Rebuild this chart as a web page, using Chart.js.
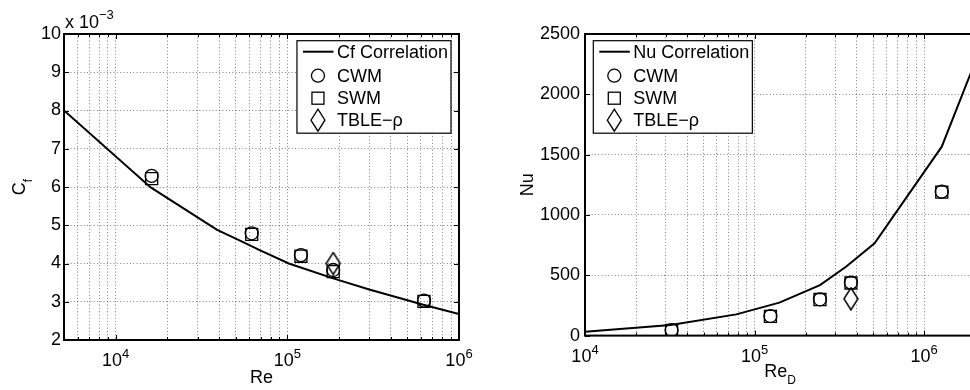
<!DOCTYPE html>
<html>
<head>
<meta charset="utf-8">
<script src="https://cdn.jsdelivr.net/npm/chart.js@4.4.1/dist/chart.umd.min.js"></script>
<style>
html, body { margin: 0; padding: 0; background: #fff; overflow: hidden; }
#wrap { position: relative; width: 970px; height: 390px; overflow: hidden; }
#cf { position: absolute; left: 0; top: 0; }
#nu { position: absolute; left: 485px; top: 0; }
</style>
</head>
<body>
<div id="wrap">
  <canvas id="cf" width="485" height="390"></canvas>
  <canvas id="nu" width="500" height="390"></canvas>
</div>
<script>
// left panel - skin friction (values in units of 1e-3)
var cfCorrRe = [5000, 16000, 39000, 53000, 69000, 102000, 185000, 300000, 620000, 1000000]
var cfCorr   = [8.0, 5.99, 4.88, 4.60, 4.35, 4.00, 3.61, 3.32, 2.92, 2.68]
var cfRe     = [16200, 62000, 120000, 185000, 625000]
var cfCWM    = [6.29, 4.79, 4.22, 3.83, 3.03]
var cfSWM    = [6.22, 4.76, 4.19, 3.79, 3.01]
var cfTbleRe = [185000]
var cfTBLE   = [4.00]
var cfYTicks = [2, 3, 4, 5, 6, 7, 8, 9, 10]

// right panel - Nusselt number
var nuCorrRe = [10000, 32000, 78000, 140000, 243000, 346000, 510000, 1270000, 2000000]
var nuCorr   = [32, 88, 176, 273, 419, 571, 765, 1566, 2270]
var nuRe     = [32400, 124000, 243000, 370000, 1270000]
var nuCWM    = [46, 162, 301, 439, 1193]
var nuSWM    = [44, 160, 299, 436, 1190]
var nuTbleRe = [370000]
var nuTBLE   = [305]
var nuYTicks = [0, 500, 1000, 1500, 2000, 2500]

var fam = '"Liberation Sans", Arial, Helvetica, sans-serif'
Chart.defaults.font.family = fam
Chart.defaults.font.size = 18
Chart.defaults.color = '#000'

function pts(xs, ys) {
    return xs.map(function (x, i) { return {x: x, y: ys[i]} })
}

function diamondPath(g, x, y) {
    g.beginPath()
    g.moveTo(x, y - 11); g.lineTo(x + 7, y); g.lineTo(x, y + 11); g.lineTo(x - 7, y)
    g.closePath(); g.stroke()
}

// tall matlab style diamond
function diamondImg() {
    var c = document.createElement('canvas')
    c.width = 16; c.height = 24
    var g = c.getContext('2d')
    g.strokeStyle = '#000'; g.lineWidth = 1.5
    diamondPath(g, 8, 12)
    return c
}
var diamond = diamondImg()

function logTicks(min, max) {
    var t = []
    for (var e = Math.floor(Math.log10(min)); e <= Math.ceil(Math.log10(max)); e++) {
        for (var k = 1; k < 10; k++) {
            var v = k * Math.pow(10, e)
            if (v >= min * 0.999 && v <= max * 1.001) t.push({value: v})
        }
    }
    return t
}

function decade(v) {
    var e = Math.log10(v)
    if (Math.abs(e - Math.round(e)) > 1e-9) return null
    return Math.round(e)
}

function datasets(lineLabel, corrX, corrY, re, cwm, swm, tbleRe, tble) {
    return [
        {label: lineLabel, data: pts(corrX, corrY), showLine: true, borderColor: '#000', borderWidth: 2,
         pointRadius: 0, order: 1},
        {label: 'CWM', data: pts(re, cwm), pointStyle: 'circle', pointRadius: 6.5,
         borderColor: '#000', borderWidth: 1.3, backgroundColor: 'transparent'},
        {label: 'SWM', data: pts(re, swm), pointStyle: 'rect', pointRadius: 8.5,
         borderColor: '#000', borderWidth: 1.3, backgroundColor: 'transparent'},
        {label: 'TBLE\u2212\u03C1', data: pts(tbleRe, tble), pointStyle: diamond, pointRadius: 8,
         borderColor: '#000', borderWidth: 1.3, backgroundColor: 'transparent'}
    ]
}

function drawMarker(ctx, i, x, y) {
    ctx.beginPath()
    if (i == 1) { ctx.arc(x, y, 6.5, 0, Math.PI * 2); ctx.stroke() }
    else if (i == 2) { ctx.strokeRect(x - 6, y - 6, 12, 12) }
    else if (i == 3) { diamondPath(ctx, x, y) }
}

// subscript text helper: main + smaller lowered sub, centred on x
function subText(ctx, main, sub, x, y) {
    ctx.font = '18px ' + fam
    var w1 = ctx.measureText(main).width
    ctx.font = '12px ' + fam
    var w2 = ctx.measureText(sub).width
    var x0 = x - (w1 + w2) / 2
    ctx.font = '18px ' + fam
    ctx.fillText(main, x0, y)
    ctx.font = '12px ' + fam
    ctx.fillText(sub, x0 + w1, y + 7)
}

function framePlugin(cfg) {
    return {
        id: 'frame',
        afterDraw: function (chart) {
            var ctx = chart.ctx, a = chart.chartArea, sx = chart.scales.x, sy = chart.scales.y
            ctx.save()
            // inward tick marks like matlab
            ctx.strokeStyle = '#000'; ctx.lineWidth = 1
            ctx.beginPath()
            sx.ticks.forEach(function (t) {
                var p = Math.round(sx.getPixelForValue(t.value)) + 0.5
                var l = decade(t.value) !== null ? 5 : 3
                ctx.moveTo(p, a.bottom); ctx.lineTo(p, a.bottom - l)
                ctx.moveTo(p, a.top); ctx.lineTo(p, a.top + l)
            })
            sy.ticks.forEach(function (t) {
                var p = Math.round(sy.getPixelForValue(t.value)) + 0.5
                ctx.moveTo(a.left, p); ctx.lineTo(a.left + 5, p)
                ctx.moveTo(a.right, p); ctx.lineTo(a.right - 5, p)
            })
            ctx.stroke()
            ctx.lineWidth = 2
            ctx.strokeRect(a.left, a.top, a.right - a.left, a.bottom - a.top)

            // x tick labels 10^n with raised exponent
            ctx.fillStyle = '#000'
            ctx.textBaseline = 'alphabetic'
            ctx.textAlign = 'left'
            sx.ticks.forEach(function (t) {
                var e = decade(t.value)
                if (e === null) return
                var p = sx.getPixelForValue(t.value)
                ctx.font = '18px ' + fam
                var w1 = ctx.measureText('10').width
                ctx.font = '13px ' + fam
                var w2 = ctx.measureText(String(e)).width
                var x0 = p - (w1 + w2) / 2
                ctx.font = '18px ' + fam
                ctx.fillText('10', x0, a.bottom + 26)
                ctx.font = '13px ' + fam
                ctx.fillText(String(e), x0 + w1, a.bottom + 18.3)
            })

            // legend box
            var ds = chart.data.datasets
            ctx.font = '18px ' + fam
            var maxW = 0
            ds.forEach(function (d) { maxW = Math.max(maxW, ctx.measureText(d.label).width) })
            var w = 40 + maxW + 3, h = 92.5
            var x0 = cfg.legendRight ? a.right - 8 - w : a.left + 8.3
            var y0 = a.top + 6.7
            ctx.fillStyle = '#fff'
            ctx.fillRect(x0, y0, w, h)
            ctx.lineWidth = 1.2; ctx.strokeStyle = '#000'
            ctx.strokeRect(x0, y0, w, h)
            var rows = [11, 35, 57.5, 79.5]
            ctx.fillStyle = '#000'
            ctx.textBaseline = 'middle'
            ds.forEach(function (d, i) {
                var yy = y0 + rows[i]
                if (i == 0) {
                    ctx.lineWidth = 2
                    ctx.beginPath(); ctx.moveTo(x0 + 6, yy); ctx.lineTo(x0 + 36.5, yy); ctx.stroke()
                } else {
                    ctx.lineWidth = 1.3
                    drawMarker(ctx, i, x0 + 21, yy)
                }
                ctx.fillText(d.label, x0 + 40, yy + 1)
            })

            // axis titles
            ctx.textBaseline = 'alphabetic'
            subText(ctx, cfg.xMain, cfg.xSub, (a.left + a.right) / 2, a.bottom + cfg.xOff)
            ctx.save()
            ctx.translate(cfg.yX, (a.top + a.bottom) / 2)
            ctx.rotate(-Math.PI / 2)
            subText(ctx, cfg.yMain, cfg.ySub, 0, 0)
            ctx.restore()
            if (cfg.mult) {
                ctx.font = '18px ' + fam
                ctx.fillText('x 10', a.left + 1, a.top - 6)
                var wx = ctx.measureText('x 10').width
                ctx.font = '13px ' + fam
                ctx.fillText('\u22123', a.left + 1 + wx, a.top - 15.5)
            }
            ctx.restore()
        }
    }
}

function makeChart(id, ds, xmin, xmax, ymin, ymax, yTicks, lay, cfg) {
    return new Chart(id, {
        type: 'scatter',
        data: {datasets: ds},
        options: {
            responsive: false,
            animation: false,
            layout: {padding: {left: 0, top: 34, right: lay.right, bottom: 0}},
            plugins: {legend: {display: false}, tooltip: {enabled: false}},
            scales: {
                x: {
                    type: 'logarithmic', min: xmin, max: xmax,
                    afterBuildTicks: function (s) { s.ticks = logTicks(xmin, xmax) },
                    afterFit: function (s) { s.height = lay.xh },
                    grid: {color: 'rgba(0,0,0,0.5)', lineWidth: 1, drawTicks: false},
                    border: {display: false, dash: [1, 2.3]},
                    ticks: {display: false, autoSkip: false, maxRotation: 0, minRotation: 0}
                },
                y: {
                    min: ymin, max: ymax,
                    afterBuildTicks: function (s) { s.ticks = yTicks.map(function (v) { return {value: v} }) },
                    afterFit: function (s) { s.width = lay.yw },
                    grid: {color: 'rgba(0,0,0,0.5)', lineWidth: 1, drawTicks: false},
                    border: {display: false, dash: [1, 2.3]},
                    ticks: {padding: lay.ypad, callback: function (v) { return v }}
                }
            }
        },
        plugins: [framePlugin(cfg)]
    })
}

var cfChart = makeChart('cf',
    datasets('Cf Correlation', cfCorrRe, cfCorr, cfRe, cfCWM, cfSWM, cfTbleRe, cfTBLE),
    5000, 1000000, 2, 10, cfYTicks,
    {right: 26, xh: 50, yw: 64, ypad: 3},
    {legendRight: true, xMain: 'Re', xSub: '', xOff: 43, yMain: 'C', ySub: 'f', yX: 25, mult: true})

var nuChart = makeChart('nu',
    datasets('Nu Correlation', nuCorrRe, nuCorr, nuRe, nuCWM, nuSWM, nuTbleRe, nuTBLE),
    10000, 2000000, 0, 2500, nuYTicks,
    {right: 9, xh: 54.4, yw: 100, ypad: 5},
    {legendRight: false, xMain: 'Re', xSub: 'D', xOff: 41.5, yMain: 'Nu', ySub: '', yX: 48, mult: false})
</script>
</body>
</html>
